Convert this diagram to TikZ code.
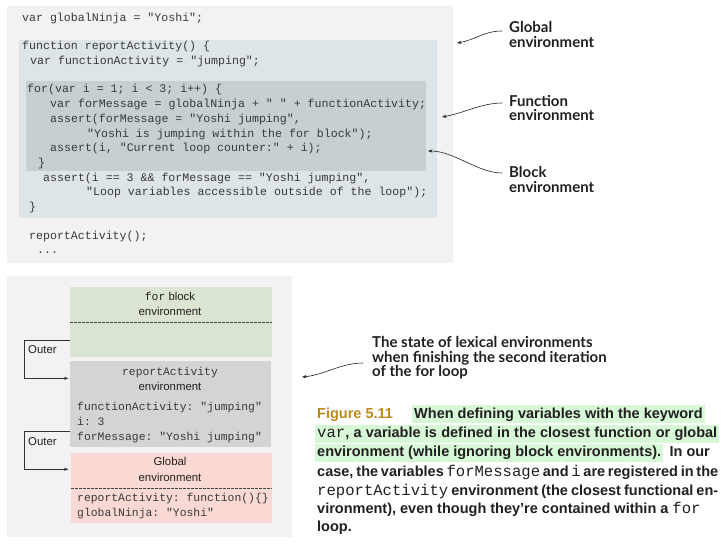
\documentclass[tikz,border=0pt]{standalone}
\usepackage{fontspec}
\setmainfont{Liberation Sans}
\setmonofont{Liberation Mono}
\newfontfamily\labfont{Lato}
\usetikzlibrary{arrows.meta,calc}
\definecolor{panel}{HTML}{F2F2F2}
\definecolor{funcenv}{HTML}{DDE5E8}
\definecolor{blockenv}{HTML}{C6D0D3}
\definecolor{forenv}{HTML}{DBE5D3}
\definecolor{raenv}{HTML}{D4D4D7}
\definecolor{globenv}{HTML}{FAD8D3}
\definecolor{codetext}{HTML}{3A3A3A}
\definecolor{labtext}{HTML}{231F20}
\definecolor{gold}{HTML}{BD8A1E}
\definecolor{hlgreen}{HTML}{D6F8D6}
\newcommand\capmono[1]{{\fontsize{15.6}{19}\selectfont\mdseries\ttfamily #1}}
\begin{document}
\begin{tikzpicture}[x=1pt,y=-1pt,
 bg/.style={inner sep=0, outer sep=0, anchor=north west, draw=none},
 code/.style={anchor=base west, inner sep=0, text=codetext, font=\fontsize{11.6}{14}\selectfont\ttfamily},
 envtxt/.style={anchor=base, inner sep=0, text=labtext, font=\fontsize{11.4}{14}\selectfont},
 envmono/.style={anchor=base west, inner sep=0, text=codetext, font=\fontsize{11.4}{14}\selectfont\ttfamily},
 lab/.style={anchor=base west, inner sep=0, text=labtext, font=\fontsize{15}{15}\selectfont\labfont\bfseries},
 callout/.style={draw=labtext, line width=0.6pt, -{Stealth[length=4.5pt,width=3.2pt]}},
 outerline/.style={draw=black!80, line width=0.8pt, -{Stealth[length=4.5pt,width=3.2pt]}},
 dashsep/.style={draw=black!75, line width=0.8pt, dash pattern=on 2.5pt off 1.5pt},
 captxt/.style={anchor=base west, inner sep=0, text=labtext, font=\fontsize{14.5}{19}\selectfont\bfseries},
 hl/.style={fill=hlgreen, inner xsep=2pt, inner ysep=0pt, text height=13pt, text depth=5pt}
]
\useasboundingbox (0,0) rectangle (726,544);
\fill[white] (0,0) rectangle (726,544);

% ---------- top panel ----------
\node[bg, fill=panel, minimum width=446pt, minimum height=257pt] (toppanel) at (7,6) {};
\node[bg, fill=funcenv, minimum width=418pt, minimum height=178pt] (funcbox) at (19,40) {};
\node[bg, fill=blockenv, minimum width=400pt, minimum height=90pt] (blockbox) at (26,81) {};

\node[code] (c1) at (22,21.5) {var globalNinja = "Yoshi";};
\node[code] (c2) at (22,49) {function reportActivity() \{};
\node[code] (c3) at (30,64) {var functionActivity = "jumping";};
\node[code] (c4) at (27,92.7) {for(var i = 1; i < 3; i++) \{};
\node[code] (c5) at (50,107.7) {var forMessage = globalNinja + " " + functionActivity;};
\node[code] (c6) at (50,122.7) {assert(forMessage = "Yoshi jumping",};
\node[code] (c7) at (87,137.5) {"Yoshi is jumping within the for block");};
\node[code] (c8) at (50,151.7) {assert(i, "Current loop counter:" + i);};
\node[code] (c9) at (38,166) {\}};
\node[code] (c10) at (43,181.7) {assert(i == 3 \&\& forMessage == "Yoshi jumping",};
\node[code] (c11) at (86,195.7) {"Loop variables accessible outside of the loop");};
\node[code] (c12) at (29,210) {\}};
\node[code] (c13) at (29,239.3) {reportActivity();};
\node[code] (c14) at (37,253) {...};

% ---------- right labels ----------
\node[lab] (lg1) at (509,32.3) {Global};
\node[lab] (lg2) at (509,47.7) {environment};
\node[lab] (lf1) at (509,106) {Function};
\node[lab] (lf2) at (509,120.5) {environment};
\node[lab] (lb1) at (509,177.7) {Block};
\node[lab] (lb2) at (509,192.7) {environment};

\coordinate (gtip) at (457,43);
\coordinate (ftip) at (442,117);
\coordinate (btip) at (428,151);
\draw[callout] ($(lg1.base west)+(-7,-1.3)$) .. controls +(-18,0) and +(18,-3) .. (gtip);
\draw[callout] ($(lf1.base west)+(-7,-3)$) .. controls +(-20,0) and +(22,-4) .. (ftip);
\draw[callout] ($(lb1.base west)+(-7,-4.7)$) .. controls +(-24,0) and +(26,0) .. (btip);

% ---------- bottom panel ----------
\node[bg, fill=panel, minimum width=285pt, minimum height=261pt] (botpanel) at (7,276) {};
\node[bg, fill=forenv, minimum width=202pt, minimum height=70pt] (forbox) at (70,287) {};
\node[bg, fill=raenv, minimum width=201pt, minimum height=86pt] (rabox) at (70,361) {};
\node[bg, fill=globenv, minimum width=201pt, minimum height=70pt] (globbox) at (71,453) {};

\draw[dashsep] (forbox.west |- 0,322) -- (forbox.east |- 0,322);
\draw[dashsep] (globbox.west |- 0,488) -- (globbox.east |- 0,488);

\node[envtxt] (fort1) at (170,300.7) {{\ttfamily for} block};
\node[envtxt] (fort2) at (170,315) {environment};
\node[envtxt, font=\fontsize{11.4}{14}\selectfont\ttfamily, text=codetext] (rat1) at (170,375.5) {reportActivity};
\node[envtxt] (rat2) at (170,390) {environment};
\node[envmono] (rav1) at (77,410) {functionActivity: "jumping"};
\node[envmono] (rav2) at (77,425) {i: 3};
\node[envmono] (rav3) at (77,440) {forMessage: "Yoshi jumping"};
\node[envtxt] (glt1) at (170,465.7) {Global};
\node[envtxt] (glt2) at (170,481) {environment};
\node[envmono] (glv1) at (77,501.7) {reportActivity: function()\{\}};
\node[envmono] (glv2) at (77,516.7) {globalNinja: "Yoshi"};

\node[envtxt, anchor=base west] (outer1) at (28,353.3) {Outer};
\node[envtxt, anchor=base west] (outer2) at (28,445) {Outer};
\draw[outerline] ($(forbox.south west)+(0,-16.7)$) -- (24.3,340.3) -- (24.3,378.3) -- ($(rabox.north west)+(-1.5,17.3)$);
\draw[outerline] ($(rabox.south west)+(0,-15.3)$) -- (24.3,431.7) -- (24.3,469.3) -- ($(globbox.north west)+(-2.5,16.3)$);

% ---------- state label ----------
\node[lab] (ls1) at (372,347.3) {The state of lexical environments};
\node[lab] (ls2) at (372,362.3) {when finishing the second iteration};
\node[lab] (ls3) at (372,376.5) {of the for loop};
\coordinate (stip) at (302,377);
\draw[callout] ($(ls2.base west)+(-9,0.7)$) .. controls +(-22,0) and +(22,-2) .. (stip);

% ---------- caption ----------
\node[captxt, text=gold] (cap1a) at (317,418.3) {Figure 5.11};
\node[captxt, hl, anchor=base west] (cap1b) at (412,418.3) {When defining variables with the keyword};
\node[captxt, hl, anchor=base west] (cap2) at (315,437.7) {\makebox[400pt][s]{\capmono{var}, a variable is defined in the closest function or global}};
\node[captxt, hl, anchor=base west] (cap3a) at (315,456.7) {environment (while ignoring block environments).};
\node[captxt] (cap3b) at ($(cap3a.base east)+(6,0)$) {In our};
\node[captxt] (cap4) at (317,476) {\makebox[401pt][s]{case, the variables \capmono{forMessage} and \capmono{i} are registered in the}};
\node[captxt] (cap5) at (317,495) {\makebox[401pt][s]{\capmono{reportActivity} environment (the closest functional en-}};
\node[captxt] (cap6) at (317,513) {vironment), even though they’re contained within a \capmono{for}};
\node[captxt] (cap7) at (317,531.7) {loop.};
\end{tikzpicture}
\end{document}
